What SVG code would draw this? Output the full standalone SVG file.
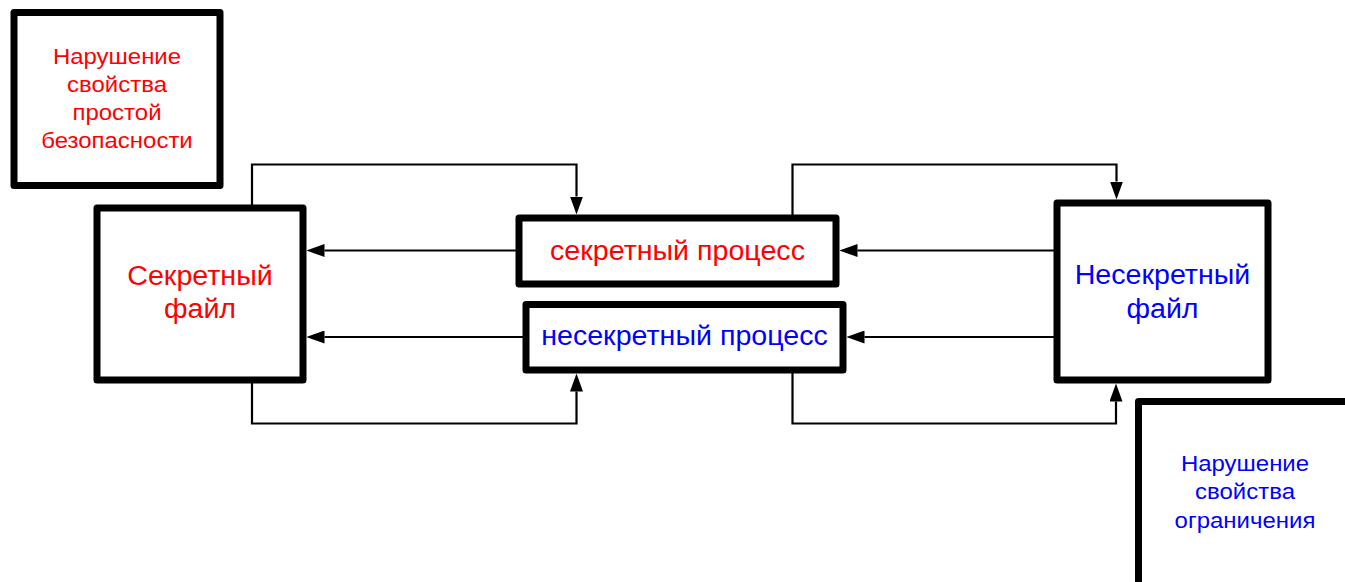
<svg xmlns="http://www.w3.org/2000/svg" width="1345" height="582" viewBox="0 0 1345 582">
<style>
.box{fill:#fff;stroke:#000;stroke-width:7;stroke-linejoin:round}
.conn{fill:none;stroke:#000;stroke-width:2.2}
.t{font-family:"Liberation Sans",Arial,sans-serif;text-anchor:middle}
.big{font-size:27px}
.small{font-size:22px}
.red{fill:#ff0000}
.blue{fill:#0000ff}
</style>
<defs>
<marker id="arr" viewBox="0 0 18 13" refX="0" refY="6.5" markerWidth="18" markerHeight="13" markerUnits="userSpaceOnUse" orient="auto">
<path d="M0,0 L18,6.5 L0,13 z" fill="#000"/>
</marker>
</defs>
<g id="connectors">
<path class="conn" d="M252,208 V164.5 H576.5 V196.5" marker-end="url(#arr)"/>
<path class="conn" d="M519,250.5 H324.5" marker-end="url(#arr)"/>
<path class="conn" d="M526,337 H324.5" marker-end="url(#arr)"/>
<path class="conn" d="M252,380 V423.5 H576.5 V391.5" marker-end="url(#arr)"/>
<path class="conn" d="M792.5,218 V164.5 H1116.5 V181.5" marker-end="url(#arr)"/>
<path class="conn" d="M1057,250.5 H857.5" marker-end="url(#arr)"/>
<path class="conn" d="M1057,337 H864.5" marker-end="url(#arr)"/>
<path class="conn" d="M792.5,370 V423.5 H1116 V401.5" marker-end="url(#arr)"/>
</g>
<g id="violation-simple">
<rect class="box" x="14" y="12.5" width="206" height="173"/>
<text class="t small red" transform="translate(117,64) scale(1.09,1)">Нарушение</text>
<text class="t small red" transform="translate(117,92) scale(1.09,1)">свойства</text>
<text class="t small red" transform="translate(117,120) scale(1.09,1)">простой</text>
<text class="t small red" transform="translate(117,148) scale(1.09,1)">безопасности</text>
</g>
<g id="secret-file">
<rect class="box" x="97" y="208" width="206" height="172"/>
<text class="t big red" transform="translate(200,285) scale(1.06,1)">Секретный</text>
<text class="t big red" transform="translate(200,318) scale(1.06,1)">файл</text>
</g>
<g id="secret-process">
<rect class="box" x="519" y="218" width="317" height="66"/>
<text class="t big red" transform="translate(677.5,260) scale(1.06,1)">секретный процесс</text>
</g>
<g id="nonsecret-process">
<rect class="box" x="526" y="304.5" width="317" height="65.5"/>
<text class="t big blue" transform="translate(684.5,345) scale(1.06,1)">несекретный процесс</text>
</g>
<g id="nonsecret-file">
<rect class="box" x="1057" y="203" width="211" height="177"/>
<text class="t big blue" transform="translate(1162.5,283.5) scale(1.06,1)">Несекретный</text>
<text class="t big blue" transform="translate(1162.5,318) scale(1.06,1)">файл</text>
</g>
<g id="violation-restriction">
<rect class="box" x="1138.5" y="401.5" width="213" height="190"/>
<text class="t small blue" transform="translate(1245,470.7) scale(1.09,1)">Нарушение</text>
<text class="t small blue" transform="translate(1245,499.3) scale(1.09,1)">свойства</text>
<text class="t small blue" transform="translate(1245,528.3) scale(1.09,1)">ограничения</text>
</g>
</svg>
